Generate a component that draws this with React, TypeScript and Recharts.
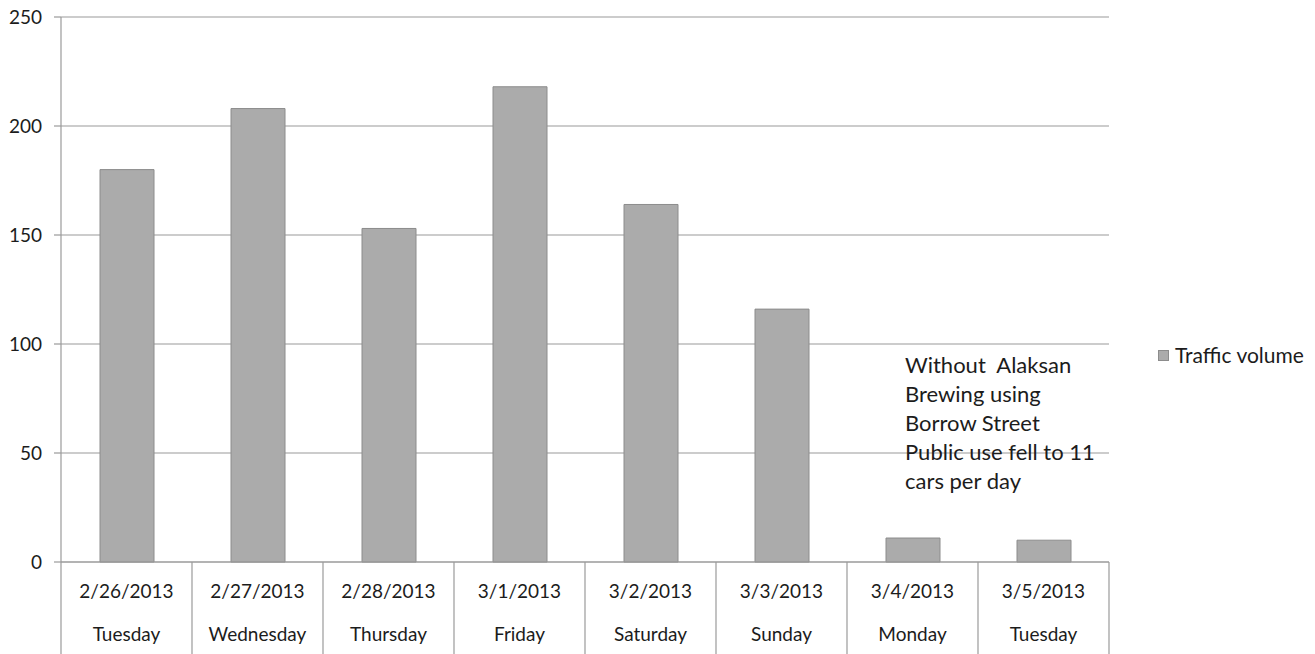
import React from "react";
import { Bar, BarChart, CartesianGrid, XAxis, YAxis } from "recharts";

const DATES = ["2/26/2013", "2/27/2013", "2/28/2013", "3/1/2013", "3/2/2013", "3/3/2013", "3/4/2013", "3/5/2013"];
const DAYS = ["Tuesday", "Wednesday", "Thursday", "Friday", "Saturday", "Sunday", "Monday", "Tuesday"];
const TRAFFIC = [180, 208, 153, 218, 164, 116, 11, 10];
const Y_TICKS = [0, 50, 100, 150, 200, 250];
const NOTE = ["Without  Alaksan", "Brewing using", "Borrow Street", "Public use fell to 11", "cars per day"];
const SERIES_NAME = "Traffic volume";

const data = DATES.map((date, i) => ({ date, day: DAYS[i], traffic: TRAFFIC[i] }));

const W = 1315;
const H = 654;
const M = { top: 17, right: 206, bottom: 0, left: 0 };
const Y_W = 61;
const X_H = 92;
const FONT = "Lato, 'Open Sans', sans-serif";
const LINE = "#9a9a9a";
const TEXT = "#1c1c1c";
const BAR = "#ababab";
const half = (W - M.right - Y_W) / DATES.length / 2;

function DateTick(props: any) {
  const { x, y, payload, index } = props;
  return (
    <g>
      <line x1={x - half} x2={x - half} y1={y} y2={y + X_H} stroke={LINE} strokeWidth={1.2} />
      {index === DATES.length - 1 && (
        <line x1={x + half} x2={x + half} y1={y} y2={y + X_H} stroke={LINE} strokeWidth={1.2} />
      )}
      <text x={x} y={y + 28} textAnchor="middle" dominantBaseline="central" fontSize={19} fill={TEXT} fontFamily={FONT}>
        {payload.value}
      </text>
      <text x={x} y={y + 71} textAnchor="middle" dominantBaseline="central" fontSize={19} fill={TEXT} fontFamily={FONT}>
        {DAYS[index]}
      </text>
    </g>
  );
}

export default function App() {
  return (
    <div style={{ position: "absolute", left: 0, top: 0, width: W, height: H, background: "#fff", fontFamily: FONT }}>
      <BarChart width={W} height={H} data={data} margin={M} barSize={54}>
        <CartesianGrid horizontal vertical={false} stroke={LINE} strokeWidth={1.2} />
        <XAxis
          dataKey="date"
          height={X_H}
          tickLine={false}
          tickSize={0}
          tickMargin={0}
          axisLine={{ stroke: LINE, strokeWidth: 1.2 }}
          interval={0}
          tick={<DateTick />}
        />
        <YAxis
          width={Y_W}
          domain={[0, 250]}
          ticks={Y_TICKS}
          tickSize={7}
          tickMargin={12}
          axisLine={{ stroke: LINE, strokeWidth: 1.2 }}
          tickLine={{ stroke: LINE, strokeWidth: 1.2 }}
          tick={{ fill: TEXT, fontSize: 19, fontFamily: FONT }}
        />
        <Bar dataKey="traffic" name={SERIES_NAME} fill={BAR} stroke="#8c8c8c" strokeWidth={1} isAnimationActive={false} />
      </BarChart>
      <div style={{ position: "absolute", left: 1158, top: 343, fontSize: 21, lineHeight: "24px", color: TEXT, display: "flex", alignItems: "center" }}>
        <span style={{ display: "inline-block", width: 9, height: 9, background: BAR, border: "1px solid #8c8c8c", marginRight: 6 }} />
        {SERIES_NAME}
      </div>
      <div style={{ position: "absolute", left: 905, top: 350, fontSize: 22, lineHeight: "29px", color: TEXT, whiteSpace: "pre" }}>
        {NOTE.map((l, i) => (
          <div key={i}>{l}</div>
        ))}
      </div>
    </div>
  );
}
